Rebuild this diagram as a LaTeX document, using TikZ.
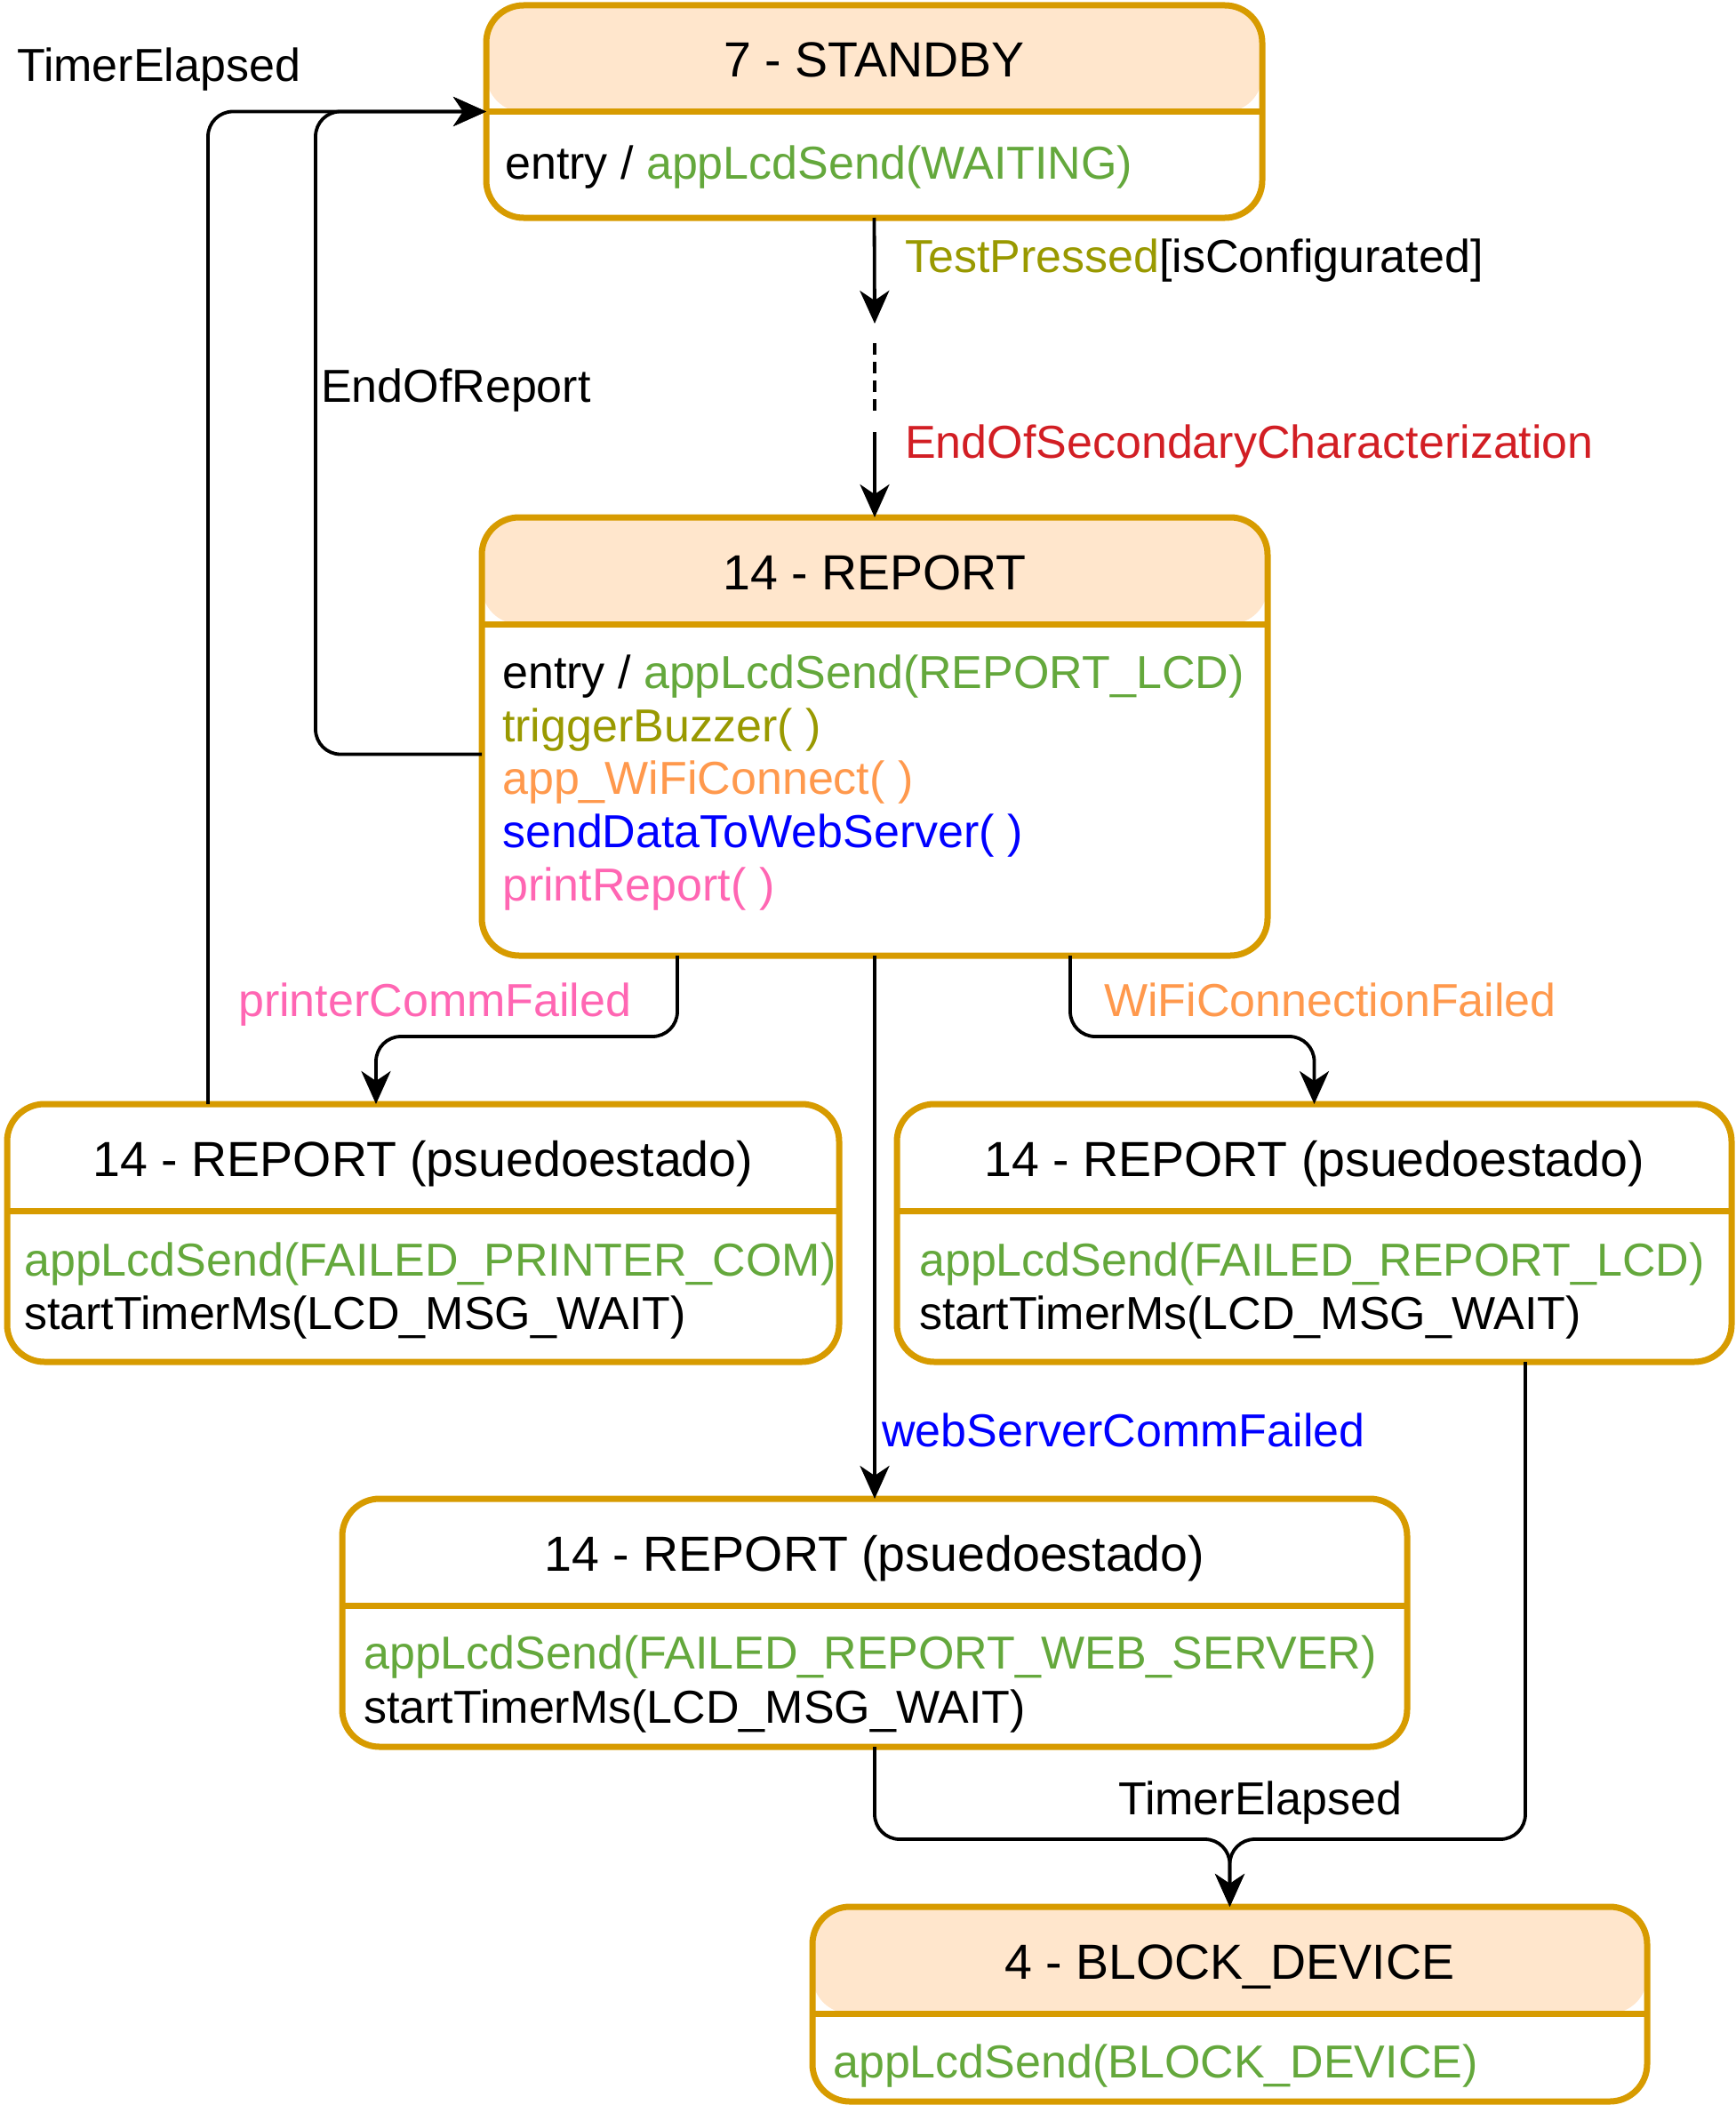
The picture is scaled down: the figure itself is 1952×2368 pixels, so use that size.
\documentclass[tikz,border=0pt]{standalone}
\usepackage{fontspec}
\setmainfont{Liberation Sans}
\usetikzlibrary{arrows.meta,calc}
\definecolor{bordc}{HTML}{D79B00}
\definecolor{hdrfill}{HTML}{FFE6CC}
\definecolor{grn}{RGB}{100,168,60}
\definecolor{olv}{HTML}{999900}
\definecolor{orng}{HTML}{FF994D}
\definecolor{pnk}{HTML}{FF66B3}
\definecolor{blu}{HTML}{0000FF}
\definecolor{redc}{RGB}{210,30,36}
\begin{document}
\begin{tikzpicture}[x=1pt,y=-1pt,
  box/.style={draw=none, fill=white, rectangle, rounded corners=42pt, inner sep=0pt, outer sep=0pt, anchor=north west},
  hdrbox/.style={box, path picture={\fill[hdrfill] (path picture bounding box.north west) rectangle ([yshift=-120pt]path picture bounding box.north east);}},
  border/.style={draw=bordc, line width=7pt, rounded corners=42pt},
  divline/.style={draw=bordc, line width=7pt},
  conn/.style={draw=black, line width=3.8pt, rounded corners=28pt, -{Stealth[length=37pt,width=33pt,inset=11pt]}},
  plainline/.style={draw=black, line width=3.8pt},
  ttl/.style={inner sep=0pt, anchor=base, font=\fontsize{55.5pt}{60pt}\selectfont},
  txt/.style={inner sep=0pt, anchor=base west, font=\fontsize{52pt}{60pt}\selectfont},
]
\useasboundingbox (0,0) rectangle (1952,2368);

% ---------- boxes ----------
\node[hdrbox, minimum width=873pt, minimum height=239pt] (standby) at (547,6) {};
\node[hdrbox, minimum width=884pt, minimum height=493pt] (report) at (542,582) {};
\node[box, minimum width=936pt, minimum height=290pt] (leftp) at (8,1242) {};
\node[box, minimum width=939pt, minimum height=290pt] (rightp) at (1009,1242) {};
\node[box, minimum width=1198pt, minimum height=279pt] (bottomp) at (385,1686) {};
\node[hdrbox, minimum width=939pt, minimum height=219pt] (block) at (914,2145) {};

\foreach \n in {standby,report,leftp,rightp,bottomp,block}{
  \draw[border] (\n.north west) rectangle (\n.south east);
  \draw[divline] ([yshift=-120pt]\n.north west) -- ([yshift=-120pt]\n.north east);
}

% ---------- box texts ----------
\node[ttl] (standbyT) at (983.5,87) {7 - STANDBY};
\node[txt] (standbyB) at (568,201) {entry / \textcolor{grn}{appLcdSend(WAITING)}};

\node[ttl] (reportT) at (984,663) {14 - REPORT};
\node[txt] (reportB1) at (565,774) {entry / \textcolor{grn}{appLcdSend(REPORT\_LCD)}};
\node[txt, text=olv] (reportB2) at (565,834) {triggerBuzzer( )};
\node[txt, text=orng] (reportB3) at (565,893) {app\_WiFiConnect( )};
\node[txt, text=blu] (reportB4) at (565,953) {sendDataToWebServer( )};
\node[txt, text=pnk] (reportB5) at (565,1013) {printReport( )};

\node[ttl] (leftpT) at (476,1323) {14 - REPORT (psuedoestado)};
\node[txt, text=grn] (leftpB1) at (27,1435) {appLcdSend(FAILED\_PRINTER\_COM)};
\node[txt] (leftpB2) at (27,1495) {startTimerMs(LCD\_MSG\_WAIT)};

\node[ttl] (rightpT) at (1478.5,1323) {14 - REPORT (psuedoestado)};
\node[txt, text=grn] (rightpB1) at (1034,1435) {appLcdSend(FAILED\_REPORT\_LCD)};
\node[txt] (rightpB2) at (1034,1495) {startTimerMs(LCD\_MSG\_WAIT)};

\node[ttl] (bottompT) at (984,1767) {14 - REPORT (psuedoestado)};
\node[txt, text=grn] (bottompB1) at (409,1877) {appLcdSend(FAILED\_REPORT\_WEB\_SERVER)};
\node[txt] (bottompB2) at (409,1938) {startTimerMs(LCD\_MSG\_WAIT)};

\node[ttl] (blockT) at (1383.5,2226) {4 - BLOCK\_DEVICE};
\node[txt, text=grn] (blockB) at (937,2337) {appLcdSend(BLOCK\_DEVICE)};

% ---------- connector labels ----------
\node[txt] (lTE1) at (19,92) {TimerElapsed};
\node[txt] (lTP) at (1018,306) {\textcolor{olv}{TestPressed}[isConfigurated]};
\node[txt] (lEOR) at (361,452) {EndOfReport};
\node[txt, text=redc] (lEOS) at (1018,515) {EndOfSecondaryCharacterization};
\node[txt, text=pnk] (lPCF) at (268,1143) {printerCommFailed};
\node[txt, text=orng] (lWCF) at (1242,1143) {WiFiConnectionFailed};
\node[txt, text=blu] (lWSC) at (992,1627) {webServerCommFailed};
\node[txt] (lTE2) at (1258,2041) {TimerElapsed};

% ---------- connectors ----------
\coordinate (d1) at (984,364);
\coordinate (d2) at (984,386);
\coordinate (d3) at (984,466);
\coordinate (d4) at (984,486);
\draw[conn] (standby.south) -- (d1);
\draw[plainline, dash pattern=on 13pt off 8pt] (d2) -- (d3);
\draw[conn] (d4) -- (report.north);

\coordinate (eorx) at (355,0);
\draw[conn] ([yshift=-20pt]report.west) -| (eorx |- standby.west) -- (standby.west);

\coordinate (tex) at (234,0);
\draw[conn] (tex |- leftp.north) |- (standby.west);

\coordinate (pcfy) at (0,1166);
\coordinate (pcfa) at ([xshift=-53pt]leftp.north);
\draw[conn] ([xshift=-222pt]report.south) |- (pcfa |- pcfy) -- (pcfa);
\draw[conn] ([xshift=220pt]report.south) |- (rightp.north |- pcfy) -- (rightp.north);

\draw[conn] (report.south) -- (bottomp.north);

\coordinate (mgy) at (0,2069);
\coordinate (rbx) at (1716,0);
\draw[conn] (bottomp.south) |- (block.north |- mgy) -- (block.north);
\draw[conn] (rbx |- rightp.south) |- (block.north |- mgy) -- (block.north);
\end{tikzpicture}
\end{document}
